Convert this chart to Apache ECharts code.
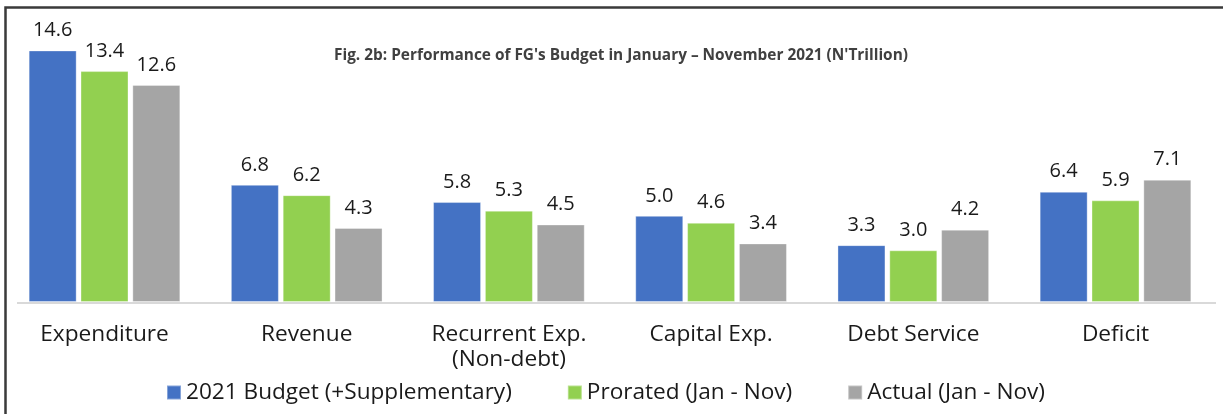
<!DOCTYPE html>
<html>
<head>
<meta charset="utf-8">
<script src="https://cdn.jsdelivr.net/npm/echarts@6/dist/echarts.min.js"></script>
<style>
  html, body { margin: 0; padding: 0; background: #fff; }
  #chart_budget { width: 1223px; height: 414px; }
</style>
</head>
<body>
<div id="chart_budget"></div>
<script>
var fontsty = 'Open Sans';
var categories = ['Expenditure', 'Revenue', 'Recurrent Exp.\n(Non-debt)', 'Capital Exp.', 'Debt Service', 'Deficit'];
var budget = [14.6, 6.8, 5.8, 5.0, 3.3, 6.4];
var prorated = [13.4, 6.2, 5.3, 4.6, 3.0, 5.9];
var actual = [12.6, 4.3, 4.5, 3.4, 4.2, 7.1];
var seriesNames = ['2021 Budget (+Supplementary)', 'Prorated (Jan - Nov)', 'Actual (Jan - Nov)'];
var colors = ['#4472C4', '#92D050', '#A5A5A5'];

var myChart = echarts.init(document.getElementById('chart_budget'));

function makeSeries(name, values, color) {
  return {
    name: name,
    type: 'bar',
    data: values,
    barWidth: 48,
    barGap: '8%',
    itemStyle: {
      color: color,
      borderColor: 'rgba(255,255,255,0.35)',
      borderWidth: 1
    },
    label: {
      show: true,
      position: 'top',
      distance: 10,
      color: '#1a1a1a',
      fontSize: 20,
      fontFamily: fontsty,
      formatter: function (p) {
        return p.value.toFixed(1);
      }
    }
  };
}

var option = {
  animation: false,
  color: colors,
  title: {
    text: "Fig. 2b: Performance of FG's Budget in January \u2013 November 2021 (N'Trillion)",
    left: 616,
    top: 43,
    textAlign: 'center',
    textStyle: {
      fontSize: 15.4,
      fontWeight: 'bold',
      color: '#404040',
      fontFamily: fontsty
    }
  },
  legend: {
    left: 166,
    top: 381,
    padding: 0,
    itemWidth: 14,
    itemHeight: 14,
    itemGap: 55,
    icon: 'rect',
    data: seriesNames,
    textStyle: {
      fontSize: 22.6,
      color: '#1a1a1a',
      fontFamily: fontsty
    }
  },
  grid: {
    left: 3.4,
    right: 6.4,
    top: 26.3,
    bottom: 112
  },
  xAxis: {
    type: 'category',
    data: categories,
    axisLine: { show: false },
    axisTick: { show: false },
    axisLabel: {
      interval: 0,
      margin: 20,
      fontSize: 22.7,
      lineHeight: 25,
      color: '#1a1a1a',
      fontFamily: fontsty
    }
  },
  yAxis: {
    type: 'value',
    min: 0,
    max: 16,
    show: false,
    splitLine: { show: false }
  },
  graphic: [
    {
      type: 'line',
      shape: { x1: 17, y1: 303, x2: 1216, y2: 303 },
      style: { stroke: '#D9D9D9', lineWidth: 2 },
      z: 100
    },
    {
      type: 'polyline',
      shape: { points: [[5.5, 414], [5.5, 7.5], [1223, 7.5]] },
      style: { stroke: '#3a3a3a', lineWidth: 2.5, fill: null },
      z: 100
    }
  ],
  series: [
    makeSeries(seriesNames[0], budget, colors[0]),
    makeSeries(seriesNames[1], prorated, colors[1]),
    makeSeries(seriesNames[2], actual, colors[2])
  ]
};
myChart.setOption(option);
</script>
</body>
</html>
